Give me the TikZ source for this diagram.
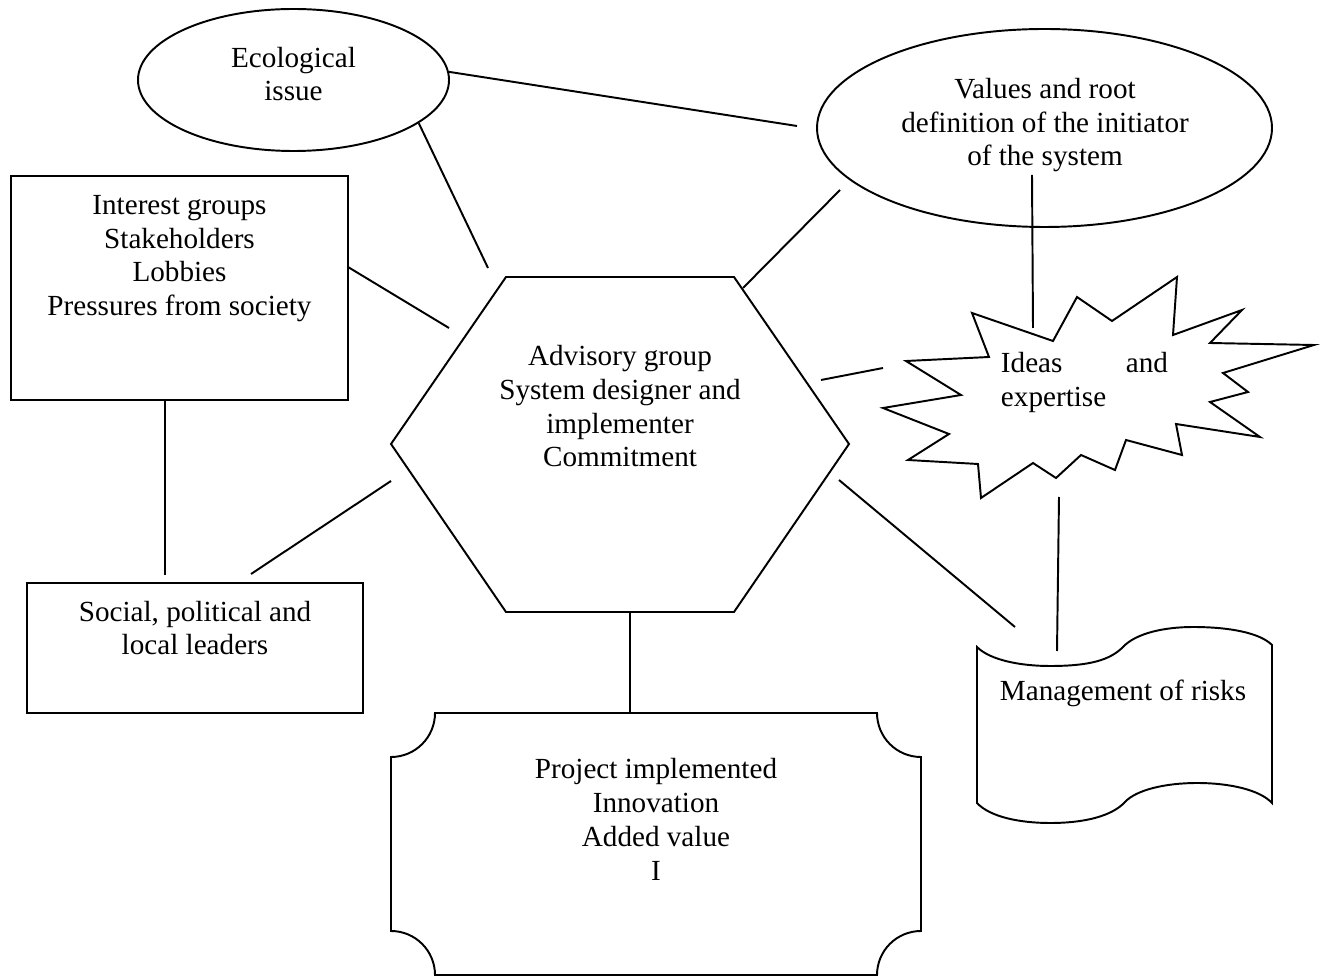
\documentclass[tikz,border=0pt]{standalone}
\usepackage{fontspec}
\setmainfont{Liberation Serif}
\usetikzlibrary{shapes.geometric}
\newdimen\pxu
\pxu=0.4115pt

\begin{document}
\begin{tikzpicture}[x=0.4115pt, y=-0.4115pt, thick,
        txt/.style={inner sep=0pt, align=center, anchor=base, font=\fontsize{12}{13.9}\selectfont},
        oval/.style={ellipse, draw, inner sep=0pt},
        box/.style={rectangle, draw, inner sep=0pt}]
        \useasboundingbox (0,0) rectangle (1322,976);
        % Ellipses at the top
        \node[oval, minimum width=311\pxu, minimum height=142\pxu] (eco) at (293.5,80) {};
        \node[txt] (ecotxt) at (293.5,101) {Ecological\\issue};
        \node[oval, minimum width=455\pxu, minimum height=198\pxu] (values) at (1044.5,128) {};
        \node[txt] (valuestxt) at (1045,166) {Values and root\\definition of the initiator\\of the system};
        % Boxes on the left
        \node[box, minimum width=337\pxu, minimum height=224\pxu] (interest) at (179.5,288) {};
        \node[txt] (interesttxt) at (179.5,315.7) {Interest groups\\Stakeholders\\Lobbies\\Pressures from society};
        \node[box, minimum width=336\pxu, minimum height=130\pxu] (leaders) at (195,648) {};
        \node[txt] (leaderstxt) at (195,655) {Social, political and\\local leaders};
        % Hexagon in the middle
        \draw (506,277) -- (734,277) -- (849,444) -- (734,612) -- (506,612) -- (391,444) -- cycle;
        \node[txt] (advisory) at (620,467) {Advisory group\\System designer and\\implementer\\Commitment};
        % Star on the right
        \draw (972,313) -- (1053,341) -- (1077,297) -- (1112,321) -- (1177,277) -- (1173,335)
            -- (1242,310) -- (1210,343) -- (1314,345) -- (1223,373) -- (1248,392) -- (1210,402)
            -- (1260,437) -- (1176,424) -- (1182,455) -- (1126,440) -- (1115,470) -- (1081,455)
            -- (1056,478) -- (1033,463) -- (981,498) -- (978,464) -- (908,460) -- (949,434)
            -- (883,408) -- (961,395) -- (906,361) -- (989,357) -- cycle;
        \node[txt, anchor=base west, align=left] (ideas) at (1000,406.7) {\makebox[68.7pt]{Ideas\hfill and}\\expertise};
        % Scroll
        \draw (977,647) .. controls (990,660) and (1020,666) .. (1050,666)
            .. controls (1090,666) and (1110,660) .. (1123,647)
            .. controls (1136,633) and (1165,627) .. (1193,627)
            .. controls (1230,627) and (1260,633) .. (1272,645) -- (1272,803)
            .. controls (1260,790) and (1230,783) .. (1197,783)
            .. controls (1165,783) and (1136,790) .. (1125,802)
            .. controls (1112,816) and (1085,823) .. (1050,823)
            .. controls (1020,823) and (990,817) .. (977,803) -- cycle;
        \node[txt] (risks) at (1123,700) {Management of risks};
        % Plaque at the bottom
        \draw (435,713) -- (877,713) arc[start angle=180, end angle=270, radius=44\pxu]
            -- (921,931) arc[start angle=90, end angle=180, radius=44\pxu]
            -- (435,975) arc[start angle=0, end angle=90, radius=44\pxu]
            -- (391,757) arc[start angle=270, end angle=360, radius=44\pxu] -- cycle;
        \node[txt] (project) at (656,880) {Project implemented\\Innovation\\Added value\\I};
        % Loose ends of the edges
        \coordinate (ecoval) at (797,126);
        \coordinate (ecohex) at (488,268);
        \coordinate (valhex1) at (840,190);
        \coordinate (valhex2) at (743,288);
        \coordinate (valideas1) at (1032,175);
        \coordinate (valideas2) at (1033,328);
        \coordinate (inthex1) at (348,267);
        \coordinate (inthex2) at (449,328);
        \coordinate (intlead1) at (165,400);
        \coordinate (intlead2) at (165,575);
        \coordinate (hexlead1) at (391,481);
        \coordinate (hexlead2) at (251,574);
        \coordinate (hexideas1) at (821,380);
        \coordinate (hexideas2) at (883,368);
        \coordinate (hexrisk1) at (839,480);
        \coordinate (hexrisk2) at (1015,627);
        \coordinate (idearisk1) at (1059,497);
        \coordinate (idearisk2) at (1057,651);
        \coordinate (hexproj1) at (630,612);
        \coordinate (hexproj2) at (630,713);
        % Edges
        \draw (eco.3) -- (ecoval);
        \draw (eco.-19) -- (ecohex);
        \draw (valhex1) -- (valhex2);
        \draw (valideas1) -- (valideas2);
        \draw (inthex1) -- (inthex2);
        \draw (intlead1) -- (intlead2);
        \draw (hexlead1) -- (hexlead2);
        \draw (hexideas1) -- (hexideas2);
        \draw (hexrisk1) -- (hexrisk2);
        \draw (idearisk1) -- (idearisk2);
        \draw (hexproj1) -- (hexproj2);
\end{tikzpicture}
\end{document}
